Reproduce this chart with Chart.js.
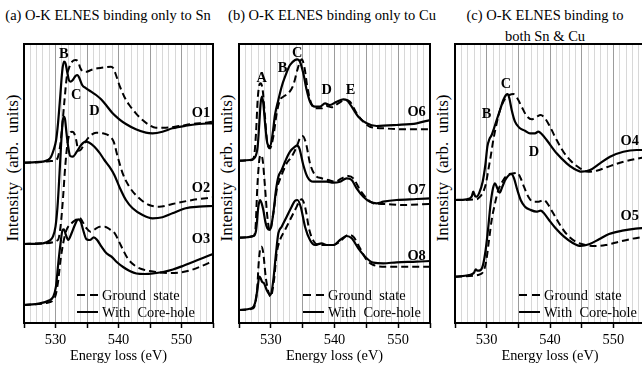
<!DOCTYPE html>
<html>
<head>
<meta charset="utf-8">
<script src="https://cdn.jsdelivr.net/npm/chart.js@4.4.1/dist/chart.umd.min.js"></script>
<style>
html, body { margin: 0; padding: 0; background: #fff; }
body { width: 642px; height: 366px; overflow: hidden; position: relative; font-family: "Liberation Serif", "Times New Roman", serif; color: #000; }
canvas { position: absolute; top: 0; }
.ttl { position: absolute; font-size: 14.5px; text-align: center; white-space: nowrap; line-height: 21px; }
.ylab { position: absolute; top: 168px; font-size: 17px; white-space: pre; transform: translate(-50%, -50%) rotate(-90deg); }
.lbl { position: absolute; font-size: 14.4px; line-height: 16px; white-space: pre; transform: translate(-50%, -50%); }
.lbl.bold { font-weight: bold; }
.lbl.left { transform: translate(0, -50%); }
</style>
</head>
<body>
<div class="ttl" style="left:0; width:216px; top:5px">(a) O-K ELNES binding only to Sn</div>
<div class="ttl" style="left:228px; width:208px; top:5px">(b) O-K ELNES binding only to Cu</div>
<div class="ttl" style="left:445px; width:200px; top:5px">(c) O-K ELNES binding to<br>both Sn &amp; Cu</div>
<div class="ylab" style="left:13px">Intensity  (arb.  units)</div>
<div class="ylab" style="left:227px">Intensity  (arb.  units)</div>
<div class="ylab" style="left:443px">Intensity  (arb.  units)</div>
<canvas id="panelA" width="222" height="366" style="left:0"></canvas>
<canvas id="panelB" width="216" height="366" style="left:222px"></canvas>
<canvas id="panelC" width="220" height="366" style="left:438px"></canvas>
<script>
// energy loss axis (eV)
const energyMin = 525;
const energyMax = 555;
const labeledTicks = [530, 540, 550];

// (a) O bound only to Sn -- spectra stacked, arb. units
const eO1Solid = [525, 526.4, 528, 528.8, 529.3, 529.7, 530.1, 530.4, 530.75, 531.06, 531.33, 531.59, 531.85, 532.12, 532.38, 532.75, 533.17, 533.49, 533.8, 534.23, 534.86, 535.65, 536.44, 537.23, 538.02, 539.07, 540.13, 541.18, 542.76, 544.35, 545.4, 546.98, 548.56, 550.67, 552.78, 555];
const iO1Solid = [16.03, 16.07, 16.13, 16.3, 16.63, 17.3, 18.3, 19.97, 22.63, 25.13, 26.13, 25.97, 25.13, 24.3, 24.13, 24.3, 24.7, 24.8, 24.47, 23.8, 23.47, 23.13, 22.8, 22.37, 21.8, 20.97, 20.37, 19.9, 19.37, 19.03, 18.97, 19.13, 19.47, 19.73, 19.9, 19.97];
const eO1Dash = [525, 528, 529.3, 530.11, 530.64, 531.06, 531.43, 531.8, 532.22, 532.64, 533.17, 533.59, 533.96, 534.44, 534.96, 535.65, 536.7, 537.76, 538.81, 539.18, 539.6, 540.23, 540.92, 541.71, 542.76, 543.82, 544.87, 545.93, 547.51, 549.62, 551.73, 553.84, 555];
const iO1Dash = [16.03, 16.1, 16.2, 16.3, 17.3, 19.63, 22.3, 24.63, 25.63, 26.13, 26.3, 26.13, 25.47, 25.13, 25.13, 25.3, 25.47, 25.57, 25.63, 25.47, 24.8, 23.63, 22.63, 21.8, 20.97, 20.3, 19.8, 19.53, 19.53, 19.7, 19.9, 20.03, 20.13];

const eO2Solid = [525, 528, 529.06, 529.59, 530, 530.32, 530.64, 530.9, 531.11, 531.27, 531.48, 531.75, 532.01, 532.33, 532.75, 533.38, 534.07, 534.75, 535.38, 536.18, 536.97, 537.76, 538.55, 539.34, 540.13, 541.18, 542.24, 543.82, 545.4, 546.98, 548.56, 550.67, 552.78, 555];
const iO2Solid = [7.9, 7.97, 8.23, 8.63, 9.63, 11.63, 14.97, 17.97, 19.97, 20.63, 20.47, 18.97, 17.63, 16.7, 16.63, 17.13, 17.8, 18.13, 18.03, 17.63, 17.03, 16.3, 15.63, 14.8, 13.63, 12.3, 11.47, 10.8, 10.47, 10.57, 10.97, 11.47, 11.63, 11.7];
const eO2Dash = [525, 528, 530.38, 530.8, 531.17, 531.54, 531.91, 532.27, 532.64, 532.96, 533.28, 533.65, 534.07, 534.75, 535.49, 536.44, 537.49, 538.55, 539.23, 539.87, 540.66, 541.71, 543.29, 544.87, 546.45, 548.56, 551.73, 555];
const iO2Dash = [7.9, 7.97, 8.3, 9.63, 12.3, 15.63, 17.97, 18.97, 19.13, 18.97, 18.3, 17.23, 17.37, 18.13, 18.7, 19.03, 18.97, 18.7, 18.13, 16.63, 14.97, 13.63, 12.47, 11.8, 11.63, 11.9, 12.3, 12.57];

const eO3Solid = [525, 527.53, 528.85, 529.64, 530.07, 530.44, 530.8, 531.12, 531.33, 531.65, 532.02, 532.55, 533.07, 533.6, 534.02, 534.39, 534.92, 535.45, 536.08, 536.61, 537.3, 538.09, 538.88, 539.67, 540.73, 541.78, 542.84, 544.16, 545.47, 547.06, 548.64, 550.22, 551.81, 553.39, 555];
const iO3Solid = [1.8, 1.97, 2.23, 2.63, 3.63, 5.97, 7.97, 9.3, 9.37, 8.8, 8.3, 8.97, 9.8, 10.37, 10.13, 9.3, 8.37, 8.3, 8.57, 8.3, 7.63, 6.97, 6.63, 6.13, 5.6, 5.2, 4.95, 4.9, 4.95, 5.1, 5.35, 5.7, 6.1, 6.5, 6.9];
const eO3Dash = [525, 528.59, 529.12, 529.64, 530.07, 530.44, 530.8, 531.23, 531.75, 532.55, 533.34, 533.76, 534.29, 534.92, 535.55, 536.24, 537.03, 537.82, 538.61, 539.41, 540.09, 540.73, 541.52, 542.57, 543.63, 544.95, 546.53, 548.11, 549.7, 551.28, 552.86, 555];
const iO3Dash = [1.8, 2.0, 2.1, 2.3, 2.9, 4.3, 6.3, 8.0, 9.3, 9.97, 10.37, 10.57, 10.13, 9.47, 9.13, 9.37, 9.63, 9.63, 9.37, 8.97, 8.13, 7.3, 6.4, 5.75, 5.4, 5.2, 5.05, 5.0, 5.05, 5.25, 5.6, 6.2];

// (b) O bound only to Cu
const eO6Solid = [525, 526.73, 527.51, 527.93, 528.19, 528.4, 528.61, 528.82, 529.14, 529.45, 529.87, 530.29, 530.65, 531.18, 531.7, 532.23, 533.01, 533.8, 534.16, 534.58, 535.1, 535.63, 536.15, 536.94, 537.72, 538.51, 539.29, 540.34, 541.39, 541.91, 542.7, 543.74, 545.05, 546.62, 549.76, 552.91, 555];
const iO6Solid = [16.23, 16.3, 16.57, 17.63, 19.97, 21.97, 22.63, 21.97, 19.63, 17.97, 17.63, 18.97, 20.8, 22.3, 23.63, 24.63, 25.8, 26.3, 26.37, 26.13, 24.97, 23.3, 22.13, 21.63, 21.63, 21.97, 21.8, 22.13, 22.37, 22.3, 21.63, 20.63, 19.97, 19.7, 19.8, 19.97, 20.3];
const eO6Dash = [525, 526.99, 527.36, 527.67, 527.93, 528.19, 528.4, 528.72, 529.08, 529.45, 529.87, 530.39, 530.92, 531.44, 531.96, 532.75, 533.53, 534.16, 534.58, 534.84, 535.26, 535.73, 536.26, 536.94, 537.98, 538.77, 539.55, 540.6, 541.65, 542.43, 543.48, 544.53, 545.58, 547.67, 550.81, 555];
const iO6Dash = [16.23, 16.3, 16.63, 18.97, 22.3, 23.8, 23.97, 23.3, 20.63, 17.97, 17.47, 18.63, 20.97, 22.3, 22.63, 22.97, 23.8, 25.3, 26.13, 26.37, 25.63, 23.63, 22.13, 21.47, 21.47, 21.7, 21.57, 21.97, 22.3, 22.13, 20.97, 20.13, 19.63, 19.47, 19.37, 19.37];

const eO7Solid = [525, 527.25, 527.67, 528.04, 528.3, 528.56, 528.82, 529.14, 529.45, 529.87, 530.39, 530.81, 531.18, 531.7, 532.23, 533.01, 533.8, 534.06, 534.48, 535.1, 535.73, 536.68, 537.72, 538.77, 539.82, 540.86, 541.91, 542.7, 543.48, 544.53, 545.58, 546.62, 547.67, 549.76, 552.91, 555];
const iO7Solid = [8.53, 8.7, 9.23, 11.63, 12.3, 11.97, 11.3, 10.13, 9.47, 9.3, 10.97, 13.3, 14.63, 15.3, 16.13, 17.13, 17.63, 17.73, 17.47, 15.8, 14.63, 14.13, 14.13, 14.13, 14.03, 14.13, 14.47, 14.3, 13.47, 12.63, 12.13, 11.97, 12.13, 12.3, 12.4, 12.47];
const eO7Dash = [525, 527.25, 527.57, 527.88, 528.19, 528.46, 528.72, 529.08, 529.45, 529.87, 530.39, 530.92, 531.7, 532.49, 533.27, 534.06, 534.69, 535.0, 535.52, 536.15, 536.94, 537.98, 539.03, 540.08, 541.13, 542.17, 542.96, 544.01, 545.05, 546.1, 547.67, 550.81, 555];
const iO7Dash = [8.53, 8.7, 9.3, 13.63, 16.3, 16.8, 16.3, 13.63, 10.63, 9.23, 10.97, 13.3, 14.8, 15.97, 16.63, 17.63, 18.63, 18.7, 17.97, 15.97, 14.8, 14.47, 14.3, 14.13, 14.47, 14.7, 14.47, 13.3, 12.47, 11.97, 11.9, 11.8, 11.9];

const eO8Solid = [525, 526.99, 527.51, 527.88, 528.19, 528.4, 528.61, 528.93, 529.35, 529.76, 529.97, 530.39, 530.81, 531.18, 531.7, 532.49, 533.27, 533.8, 534.16, 534.69, 535.37, 536.15, 536.94, 537.98, 538.77, 539.82, 540.86, 541.91, 542.7, 543.74, 545.05, 546.1, 547.67, 549.76, 552.91, 555];
const iO8Solid = [1.3, 1.47, 1.97, 3.3, 4.63, 4.47, 4.13, 3.97, 3.3, 2.87, 2.8, 4.3, 6.97, 8.97, 9.63, 10.63, 11.63, 12.23, 12.3, 11.63, 9.63, 8.3, 7.8, 7.97, 7.8, 7.8, 8.3, 8.7, 8.47, 7.47, 6.47, 6.03, 5.97, 6.07, 6.13, 6.2];
const eO8Dash = [525, 527.25, 527.62, 527.88, 528.09, 528.3, 528.56, 528.82, 529.19, 529.61, 529.97, 530.5, 530.92, 531.44, 532.23, 533.01, 533.8, 534.48, 534.84, 535.37, 536.05, 536.78, 537.72, 538.77, 539.82, 540.86, 542.17, 542.96, 544.01, 545.05, 546.1, 548.19, 551.86, 555];
const iO8Dash = [1.3, 1.47, 2.13, 3.63, 5.97, 7.3, 7.63, 6.97, 4.63, 3.13, 2.63, 4.3, 6.97, 8.3, 9.3, 10.3, 11.3, 12.13, 12.37, 11.63, 9.3, 8.13, 7.8, 7.8, 7.8, 8.13, 8.8, 8.63, 7.47, 6.3, 5.8, 5.63, 5.63, 5.63];

// (c) O bound to both Sn and Cu
const eO4Solid = [525, 526.84, 527.63, 527.89, 528.16, 528.42, 528.84, 529.37, 529.79, 530.11, 530.42, 530.79, 531.16, 531.58, 532.11, 532.63, 533.05, 533.32, 533.58, 533.95, 534.47, 535.26, 536.05, 536.84, 537.63, 538.16, 538.68, 539.47, 541.05, 542.63, 543.68, 545, 546.32, 547.89, 549.47, 551.58, 553.68, 555];
const iO4Solid = [12.3, 12.37, 12.63, 13.13, 12.7, 12.63, 13.03, 14.13, 15.8, 17.63, 18.37, 18.8, 19.47, 20.3, 21.3, 22.3, 22.8, 22.9, 22.47, 21.3, 20.13, 19.47, 19.23, 18.97, 18.97, 19.13, 18.9, 18.3, 16.97, 15.97, 15.47, 15.13, 15.3, 15.97, 16.63, 17.13, 17.3, 17.3];
const eO4Dash = [525, 528.42, 528.95, 529.47, 529.89, 530.26, 530.63, 531.05, 531.58, 532.11, 532.63, 533.16, 533.58, 534.21, 534.84, 535.53, 536.32, 537.11, 537.89, 538.53, 539.21, 540, 541.05, 542.11, 543.42, 544.74, 546.05, 547.37, 548.95, 551.05, 555];
const iO4Dash = [12.3, 12.37, 12.63, 13.13, 13.97, 15.3, 16.63, 18.3, 19.97, 21.3, 22.13, 22.63, 22.8, 22.9, 22.47, 21.63, 20.7, 20.37, 20.63, 20.8, 20.47, 19.63, 18.3, 17.13, 16.13, 15.47, 15.13, 15.23, 15.57, 16.03, 16.6];

const eO5Solid = [525, 527.21, 528, 528.26, 528.53, 529.05, 529.42, 529.84, 530.26, 530.63, 531, 531.32, 531.68, 532.05, 532.47, 533, 533.53, 533.95, 534.32, 534.84, 535.37, 536.05, 536.95, 537.84, 538.53, 539.05, 539.84, 540.89, 542.21, 543.53, 544.84, 546.16, 547.74, 549.32, 551.42, 553.53, 555];
const iO5Solid = [4.63, 4.8, 5.03, 5.37, 5.23, 5.3, 5.8, 7.3, 9.63, 11.97, 13.47, 13.97, 13.47, 13.03, 13.63, 14.37, 14.8, 14.9, 14.47, 13.3, 12.3, 11.63, 11.3, 11.13, 11.23, 10.97, 10.3, 9.47, 8.63, 8.03, 7.7, 7.87, 8.37, 8.9, 9.23, 9.43, 9.5];
const eO5Dash = [525, 528.79, 529.58, 529.95, 530.37, 530.79, 531.32, 531.84, 532.47, 533.1, 533.63, 534.32, 534.84, 535.37, 535.89, 536.58, 537.32, 538.16, 539.05, 539.58, 540.37, 541.42, 542.74, 544.05, 545.63, 547.21, 548.79, 550.89, 553, 555];
const iO5Dash = [4.63, 4.83, 5.3, 6.3, 8.3, 10.3, 11.97, 13.3, 14.13, 14.7, 14.9, 14.97, 15.03, 14.47, 13.63, 12.63, 12.13, 12.13, 12.3, 11.97, 11.13, 9.97, 8.8, 8.13, 7.8, 7.7, 7.8, 8.13, 8.43, 8.65];

// peak / site labels: text, energy, intensity
const marksA = [['B', 531.3, 27.0], ['C', 533.3, 22.9], ['D', 536.2, 21.3], ['O1', 553.1, 21.1], ['O2', 553.1, 13.6], ['O3', 553.1, 8.5]];
const marksB = [['A', 528.56, 24.63], ['B', 531.86, 25.63], ['C', 534.16, 27.13], ['D', 538.77, 23.37], ['E', 542.54, 23.37], ['O6', 552.9, 21.2], ['O7', 552.9, 13.4], ['O8', 552.9, 6.8]];
const marksC = [['B', 530.0, 20.97], ['C', 533.05, 24.03], ['D', 537.47, 17.23], ['O4', 552.6, 18.3], ['O5', 552.6, 10.8]];

function pts(xs, ys) {
    return xs.map((x, i) => ({ x: x, y: ys[i] }));
}

function lineSet(xs, ys, dashed) {
    return {
        data: pts(xs, ys),
        borderColor: '#000',
        borderWidth: dashed ? 2 : 2.2,
        borderDash: dashed ? [7, 4] : [],
        pointRadius: 0,
        cubicInterpolationMode: 'monotone',
        fill: false
    };
}

// text goes into the page as real html, placed from the chart's own scales
function addText(text, x, y, cls) {
    const div = document.createElement('div');
    div.className = 'lbl ' + (cls || '');
    div.textContent = text;
    div.style.left = x + 'px';
    div.style.top = y + 'px';
    document.body.appendChild(div);
}

// in-plot legend samples and the black frame
const panelDecor = {
    id: 'panelDecor',
    afterDatasetsDraw(chart, args, opts) {
        const { ctx, chartArea: a } = chart;
        const lx = a.left + opts.legendX;
        ctx.save();
        ctx.strokeStyle = '#000';
        ctx.lineWidth = 2;
        [[a.top + 251, [8, 5]], [a.top + 268, []]].forEach(r => {
            ctx.setLineDash(r[1]);
            ctx.beginPath();
            ctx.moveTo(lx, r[0]);
            ctx.lineTo(lx + 21, r[0]);
            ctx.stroke();
        });
        ctx.setLineDash([]);
        ctx.lineWidth = 2;
        ctx.strokeRect(a.left, a.top, a.right - a.left, a.bottom - a.top);
        ctx.restore();
    }
};

function makePanel(id, canvasLeft, padLeft, padRight, datasets, marks, legendX) {
    const ctx = document.getElementById(id).getContext('2d');
    const chart = new Chart(ctx, {
        type: 'line',
        data: { datasets: datasets },
        options: {
            responsive: false,
            animation: false,
            devicePixelRatio: 1,
            layout: { padding: { left: padLeft, right: padRight, top: 44, bottom: 0 } },
            scales: {
                x: {
                    type: 'linear',
                    min: energyMin,
                    max: energyMax,
                    afterFit: s => { s.height = 43; },
                    border: { display: false },
                    grid: {
                        color: c => (c.tick && c.tick.value % 5 === 0) ? '#9c9c9c' : '#d8d8d8',
                        lineWidth: 1,
                        tickLength: 5,
                        tickWidth: 1.5,
                        tickColor: c => (c.tick && c.tick.value % 5 === 0) ? '#000' : 'rgba(0,0,0,0)'
                    },
                    ticks: {
                        stepSize: 1,
                        autoSkip: false,
                        maxRotation: 0,
                        callback: () => ''
                    }
                },
                y: { display: false, min: 0, max: 27.9 }
            },
            plugins: {
                legend: { display: false },
                tooltip: { enabled: false },
                panelDecor: { legendX: legendX }
            }
        },
        plugins: [panelDecor]
    });

    const sx = chart.scales.x, sy = chart.scales.y, a = chart.chartArea;
    labeledTicks.forEach(v => addText(String(v), canvasLeft + sx.getPixelForValue(v), 339));
    addText('Energy loss (eV)', canvasLeft + (a.left + a.right) / 2, 355);
    marks.forEach(m => addText(m[0], canvasLeft + sx.getPixelForValue(m[1]), sy.getPixelForValue(m[2]), 'bold'));
    addText('Ground  state', canvasLeft + a.left + legendX + 25, a.top + 251, 'left');
    addText('With  Core-hole', canvasLeft + a.left + legendX + 25, a.top + 268, 'left');
    return chart;
}

makePanel('panelA', 0, 24, 9, [
    lineSet(eO1Dash, iO1Dash, true), lineSet(eO1Solid, iO1Solid, false),
    lineSet(eO2Dash, iO2Dash, true), lineSet(eO2Solid, iO2Solid, false),
    lineSet(eO3Dash, iO3Dash, true), lineSet(eO3Solid, iO3Solid, false)
], marksA, 53);

makePanel('panelB', 222, 17, 8, [
    lineSet(eO6Dash, iO6Dash, true), lineSet(eO6Solid, iO6Solid, false),
    lineSet(eO7Dash, iO7Dash, true), lineSet(eO7Solid, iO7Solid, false),
    lineSet(eO8Dash, iO8Dash, true), lineSet(eO8Solid, iO8Solid, false)
], marksB, 64);

makePanel('panelC', 438, 17, 13, [
    lineSet(eO4Dash, iO4Dash, true), lineSet(eO4Solid, iO4Solid, false),
    lineSet(eO5Dash, iO5Dash, true), lineSet(eO5Solid, iO5Solid, false)
], marksC, 64);
</script>
</body>
</html>
